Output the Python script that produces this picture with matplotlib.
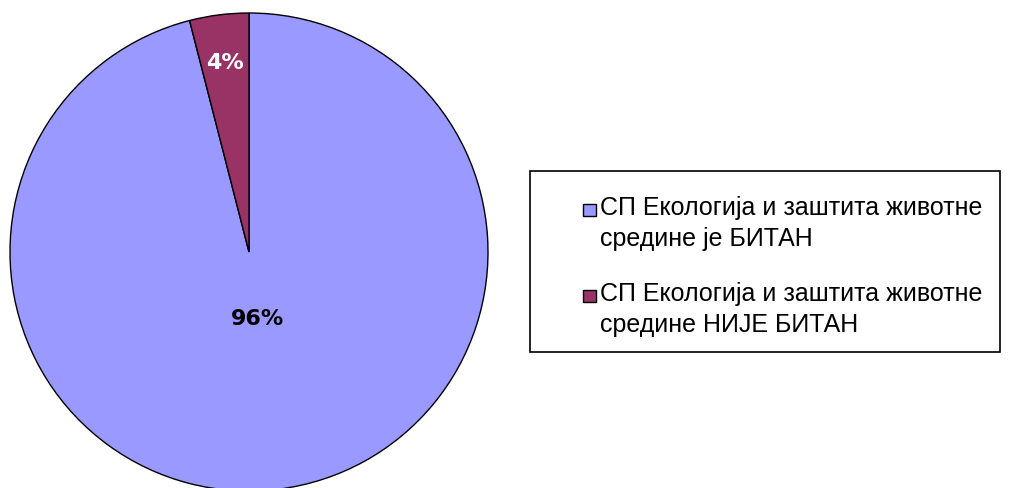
import numpy as np
import matplotlib.pyplot as plt
from matplotlib.patches import Rectangle
from matplotlib.legend_handler import HandlerPatch

labels = ['СП Екологија и заштита животне\nсредине је БИТАН',
          'СП Екологија и заштита животне\nсредине НИЈЕ БИТАН']
values = [96, 4]
colors = ['#9999FF', '#993366']

plt.rcParams['font.family'] = ['Liberation Sans', 'DejaVu Sans']

W, H = 1013, 489
fig = plt.figure(figsize=(W / 100, H / 100), dpi=100)
ax = fig.add_axes([10 / W, (H - 492) / H, 478 / W, 478 / H])

wedges, texts, autotexts = ax.pie(values, colors=colors, startangle=90, counterclock=False,
                                  autopct='%1.0f%%', pctdistance=0.8,
                                  wedgeprops=dict(edgecolor='black', linewidth=1))
for w in wedges:
    w.set_clip_on(False)

# label distances differ per slice
dists = [0.28, 0.80]
for w, t, d in zip(wedges, autotexts, dists):
    ang = np.deg2rad((w.theta1 + w.theta2) / 2)
    t.set_position((d * np.cos(ang), d * np.sin(ang)))
    t.set_fontweight('bold')
    t.set_fontsize(16)
    t.set_family('DejaVu Sans')
autotexts[0].set_color('black')
autotexts[1].set_color('white')
ax.set_xlim(-1, 1)
ax.set_ylim(-1, 1)


# small square next to the first line of each label
def top_square(legend, orig_handle, xdescent, ydescent, width, height, fontsize):
    s = 0.5 * fontsize
    return Rectangle((-xdescent + width - s, -ydescent + height - s * 1.03), s, s)


fig.patches.append(Rectangle((530 / W, 1 - 353 / H), 470 / W, 181 / H,
                             transform=fig.transFigure, facecolor='white',
                             edgecolor='black', linewidth=1.2, zorder=0))

leg = fig.legend(wedges, labels, loc='upper left',
                 bbox_to_anchor=(582 / W, 1 - 196 / H), borderaxespad=0,
                 fontsize=18, frameon=False,
                 handlelength=0.55, handleheight=2.2, handletextpad=0.15,
                 labelspacing=1.24, borderpad=0, alignment='left',
                 handler_map={w: HandlerPatch(patch_func=top_square) for w in wedges})
for t in leg.get_texts():
    t.set_linespacing(1.37)
for h in leg.legend_handles:
    h.set_linewidth(1)
    h.set_edgecolor('black')

fig.savefig('out.png', dpi=100)
